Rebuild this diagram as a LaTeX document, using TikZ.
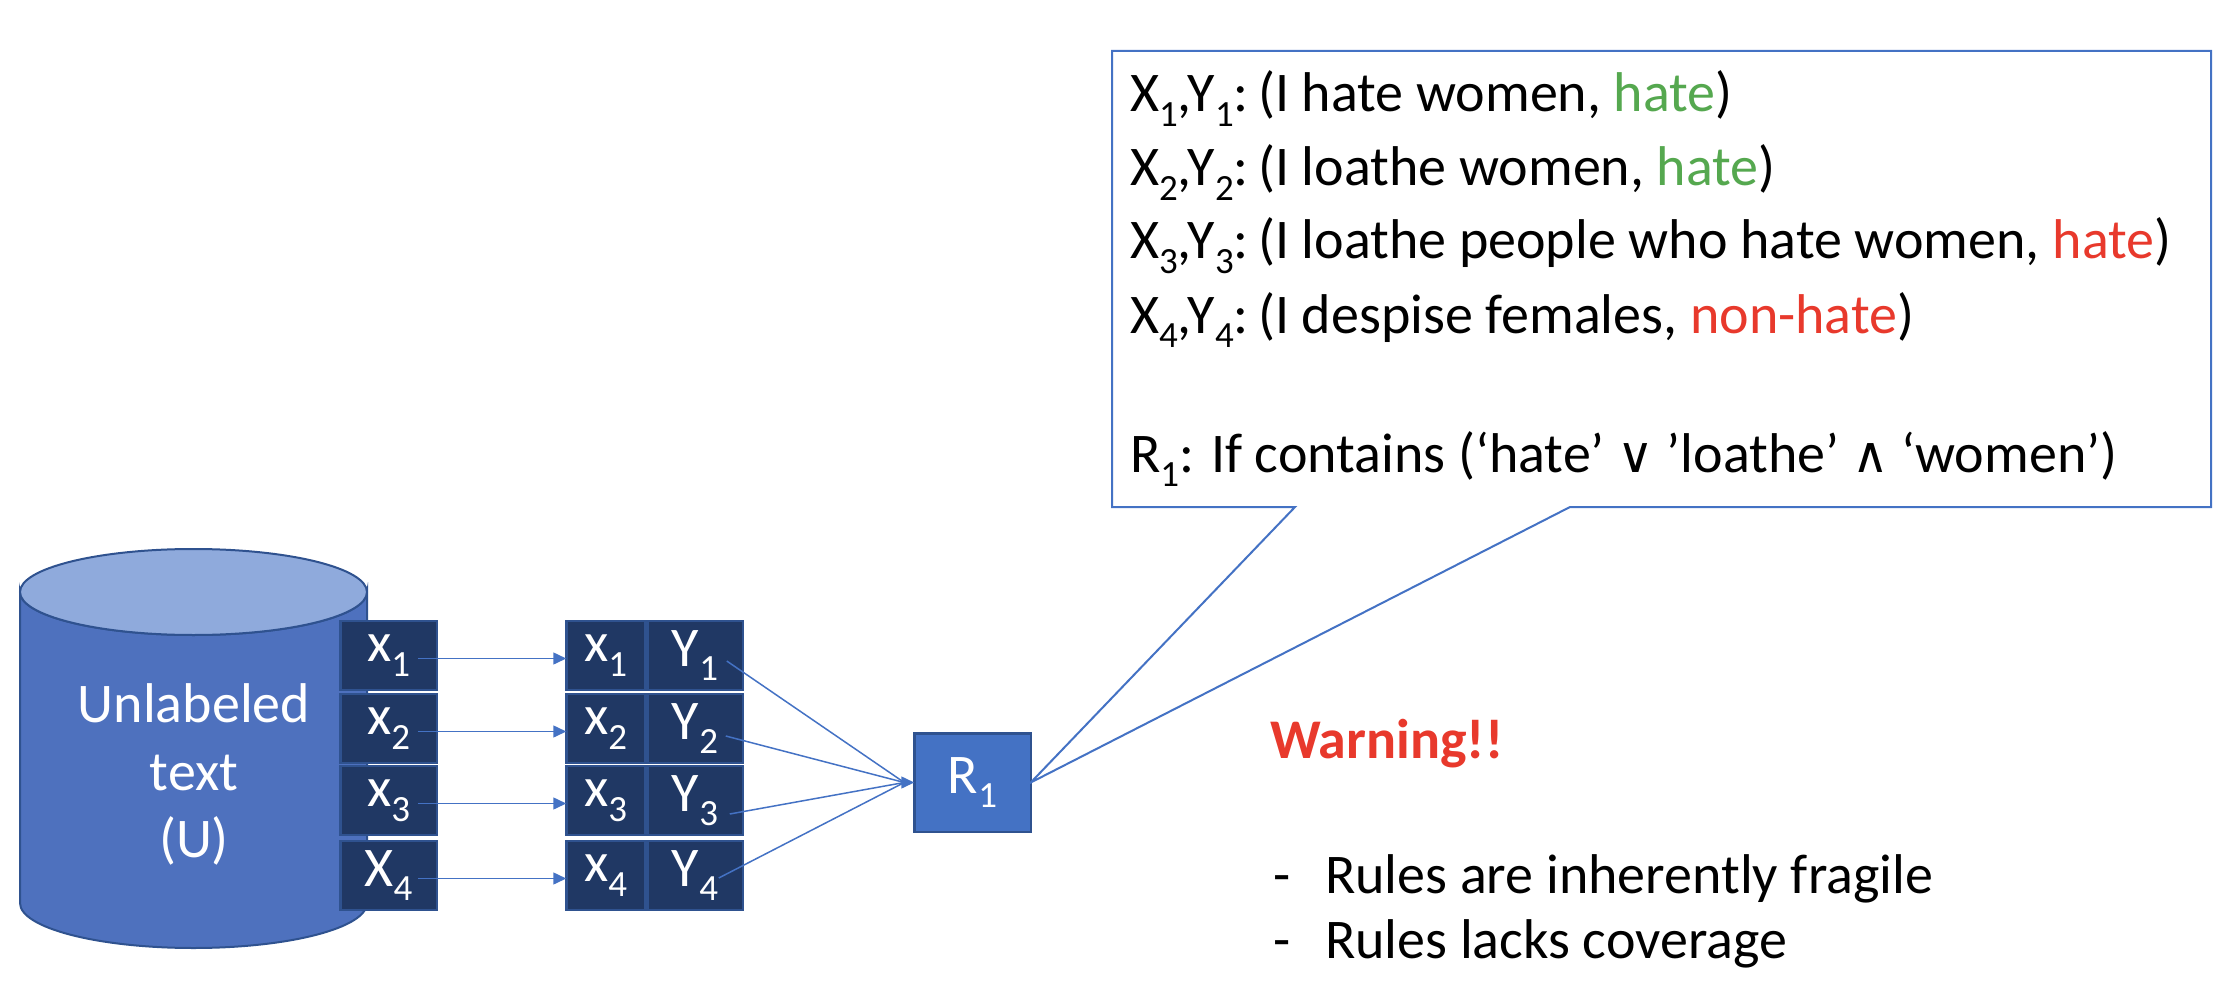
\documentclass[tikz,border=0pt]{standalone}
\usepackage{fontspec}
\setmainfont{Carlito}
\newfontfamily\symfont{DejaVu Sans}
\usetikzlibrary{arrows.meta}
\definecolor{accent}{HTML}{4472C4}
\definecolor{accdark}{HTML}{2F528F}
\definecolor{navy}{HTML}{203864}
\definecolor{cylbody}{HTML}{4E71BE}
\definecolor{cyltop}{HTML}{8FAADC}
\definecolor{hgreen}{HTML}{55A84F}
\definecolor{hred}{HTML}{E8392C}
\newcommand\sbs[1]{\raisebox{-0.26em}{\scalebox{0.66}{#1}}}
\newcommand\vsym[1]{{\symfont\fontsize{50}{50}\selectfont #1}}
\begin{document}
\begin{tikzpicture}[x=1pt,y=-1pt,
  every node/.style={inner sep=0pt, outer sep=0pt},
  big/.style={font=\fontsize{56}{67}\selectfont},
  callfont/.style={font=\fontsize{56}{67}\selectfont},
  cell/.style={draw=accdark, line width=2.5pt, fill=navy, text=white,
    minimum height=69pt, font=\fontsize{56}{60}\selectfont},
  xcell/.style={cell, minimum width=96.5pt},
  acell/.style={cell, minimum width=78.5pt},
  bcell/.style={cell, minimum width=95.5pt},
  conn/.style={draw=accent, line width=1.5pt},
  arr/.style={conn, -{Triangle[length=13pt,width=12pt]}},
]
\useasboundingbox (0,0) rectangle (2232,1000);

% cylinder (unlabeled text store)
\path[fill=cylbody, draw=accdark, line width=2pt]
  (20,592) -- (20,903) arc[start angle=180, end angle=0, x radius=173.5, y radius=45]
  -- (367,592) arc[start angle=0, end angle=180, x radius=173.5, y radius=43] -- cycle;
\path[fill=cyltop, draw=accdark, line width=2pt] (193.5,592) ellipse[x radius=173.5, y radius=43];
\node[big, text=white, anchor=base] (u1) at (194,722) {Unlabeled};
\node[big, text=white, anchor=base] (u2) at (194,790) {text};
\node[big, text=white, anchor=base] (u3) at (194,857) {(U)};

% x column
\node[xcell] (x1) at (388.5,655.5) {x\sbs{1}};
\node[xcell] (x2) at (388.5,728.5) {x\sbs{2}};
\node[xcell] (x3) at (388.5,800.5) {x\sbs{3}};
\node[xcell] (x4) at (388.5,875.5) {X\sbs{4}};

% labelled pairs
\node[acell] (a1) at (605.5,655.5) {x\sbs{1}};
\node[acell] (a2) at (605.5,728.5) {x\sbs{2}};
\node[acell] (a3) at (605.5,800.5) {x\sbs{3}};
\node[acell] (a4) at (605.5,875.5) {x\sbs{4}};
\node[bcell] (y1) at (695,655.5) {Y\sbs{1}};
\node[bcell] (y2) at (695,728.5) {Y\sbs{2}};
\node[bcell] (y3) at (695,800.5) {Y\sbs{3}};
\node[bcell] (y4) at (695,875.5) {Y\sbs{4}};

% rule box
\node[draw=accdark, line width=2.5pt, fill=accent, text=white,
  minimum width=116.5pt, minimum height=98.5pt, font=\fontsize{56}{60}\selectfont]
  (R1) at (972.5,782.5) {R\sbs{1}};

% arrows x -> pairs
\draw[arr] ([xshift=-19pt,yshift=-3pt]x1.east) -- ([yshift=-3pt]a1.west);
\draw[arr] ([xshift=-19pt,yshift=-3pt]x2.east) -- ([yshift=-3pt]a2.west);
\draw[arr] ([xshift=-19pt,yshift=-3pt]x3.east) -- ([yshift=-3pt]a3.west);
\draw[arr] ([xshift=-19pt,yshift=-3pt]x4.east) -- ([yshift=-3pt]a4.west);

% pairs -> rule
\draw[conn] ([xshift=-16pt,yshift=-5.5pt]y1.east) -- ([xshift=-10pt]R1.west);
\draw[conn] ([xshift=-17pt,yshift=-7.5pt]y2.east) -- ([xshift=-10pt]R1.west);
\draw[conn] ([xshift=-13pt,yshift=-13.5pt]y3.east) -- ([xshift=-10pt]R1.west);
\draw[conn] ([xshift=-24pt,yshift=-2.5pt]y4.east) -- ([xshift=-10pt]R1.west);
\draw[arr] ([xshift=-12pt]R1.west) -- (R1.west);

% callout
\draw[draw=accent, line width=2pt, fill=white, line join=miter]
  (1112,51) -- (2211,51) -- (2211,507) -- (1570,507) -- (R1.east)
  -- (1295,507) -- (1112,507) -- cycle;
\node[callfont, anchor=base west] (l1) at (1130,112)
  {X\sbs{1},Y\sbs{1}:\,(I hate women, \textcolor{hgreen}{hate})};
\node[callfont, anchor=base west] (l2) at (1130,186)
  {X\sbs{2},Y\sbs{2}:\,(I loathe women, \textcolor{hgreen}{hate})};
\node[callfont, anchor=base west] (l3) at (1130,259)
  {X\sbs{3},Y\sbs{3}:\,(I loathe people who hate women, \textcolor{hred}{hate})};
\node[callfont, anchor=base west] (l4) at (1130,333)
  {X\sbs{4},Y\sbs{4}:\,(I despise females, \textcolor{hred}{non-hate})};
\node[callfont, anchor=base west] (l5) at (1130,472)
  {R\sbs{1}: If contains (‘hate’ \vsym{∨} ’loathe’ \vsym{∧} ‘women’)};

% warning
\node[font=\fontsize{56}{60}\selectfont\bfseries, text=hred, anchor=base west]
  (warn) at (1270,758) {Warning!!};
\node[big, anchor=base west] (d1) at (1273,893) {-};
\node[big, anchor=base west] (b1) at (1325,893) {Rules are inherently fragile};
\node[big, anchor=base west] (d2) at (1273,958) {-};
\node[big, anchor=base west] (b2) at (1325,958) {Rules lacks coverage};
\end{tikzpicture}
\end{document}
